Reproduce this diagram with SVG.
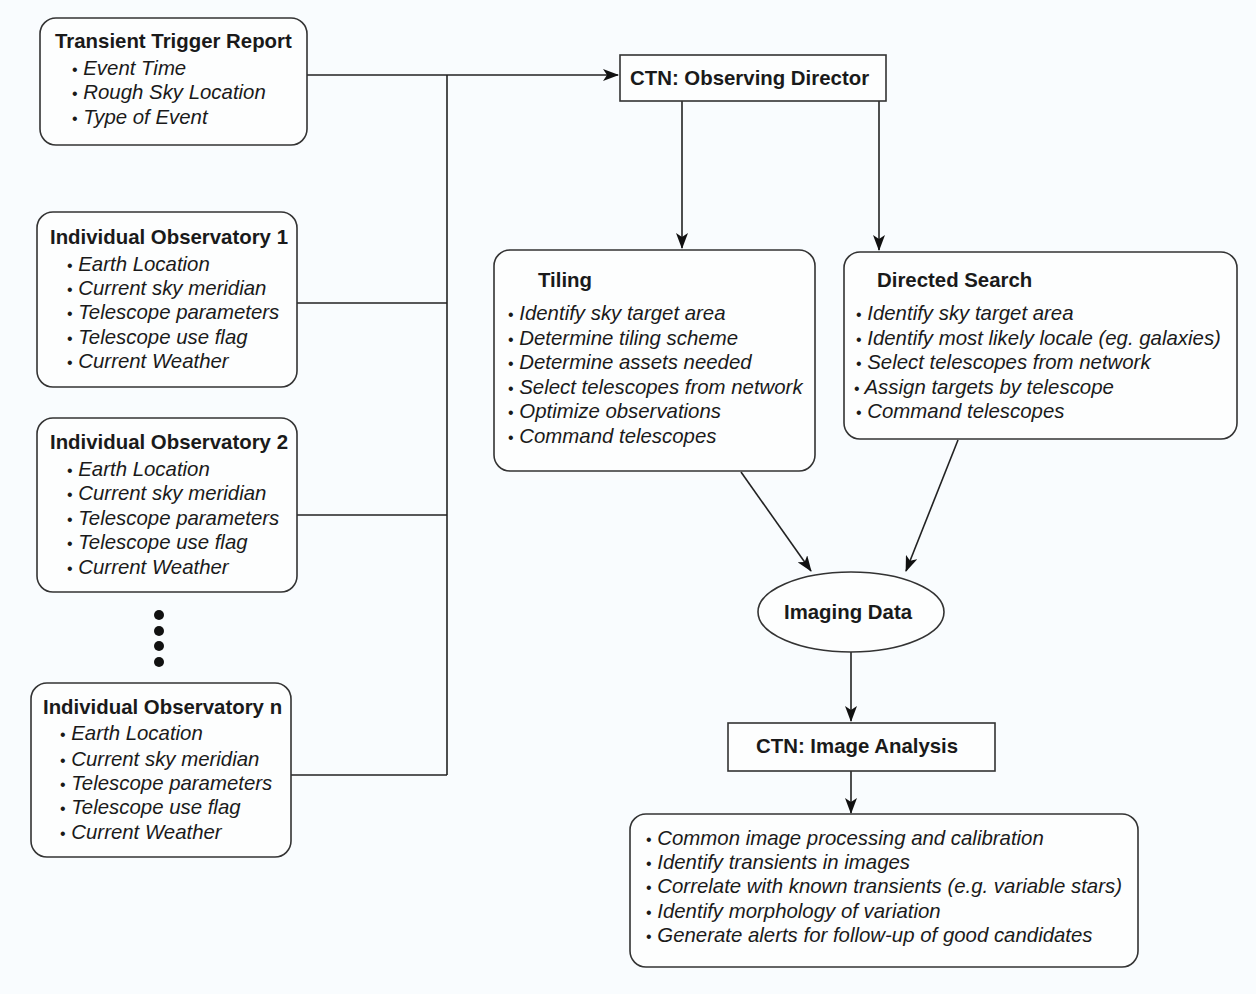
<svg xmlns="http://www.w3.org/2000/svg" width="1256" height="994" viewBox="0 0 1256 994">
  <style>
    .box { fill: #fdfefe; stroke: #333; stroke-width: 1.6; }
    .title { font-family: "Liberation Sans", Arial, sans-serif; font-size: 20.4px; font-weight: bold; fill: #1a1a1a; }
    .item { font-family: "Liberation Sans", Arial, sans-serif; font-size: 20.4px; font-style: italic; fill: #1a1a1a; }
    .blt { font-style: normal; font-size: 16px; }
    .wire { fill: none; stroke: #222; stroke-width: 1.6; }
  </style>
  <defs>
    <marker id="arr" viewBox="0 0 16 12" refX="15" refY="6" markerWidth="16" markerHeight="12" markerUnits="userSpaceOnUse" orient="auto">
      <path d="M0,0 L16,6 L0,12 L4,6 Z" fill="#111"/>
    </marker>
  </defs>
  <rect width="1256" height="994" fill="#f9fcfe"/>

  <!-- connectors -->
  <g id="connectors">
    <path class="wire" d="M307,75 H618" marker-end="url(#arr)"/>
    <path class="wire" d="M447,75 V775"/>
    <path class="wire" d="M297,303 H447"/>
    <path class="wire" d="M297,515 H447"/>
    <path class="wire" d="M291,775 H447"/>
    <path class="wire" d="M682,101 V248" marker-end="url(#arr)"/>
    <path class="wire" d="M879,101 V250" marker-end="url(#arr)"/>
    <path class="wire" d="M741,472 L811,571" marker-end="url(#arr)"/>
    <path class="wire" d="M958,440 L906,571" marker-end="url(#arr)"/>
    <path class="wire" d="M851,652 V721" marker-end="url(#arr)"/>
    <path class="wire" d="M851,771 V813" marker-end="url(#arr)"/>
  </g>

  <g id="trigger-report">
    <rect class="box" x="40" y="18" width="267" height="127" rx="16"/>
    <text class="title" x="55" y="48">Transient Trigger Report</text>
    <text class="item" x="72" y="75"><tspan class="blt">•</tspan> Event Time</text>
    <text class="item" x="72" y="99"><tspan class="blt">•</tspan> Rough Sky Location</text>
    <text class="item" x="72" y="124"><tspan class="blt">•</tspan> Type of Event</text>
  </g>

  <g id="observatory-1">
    <rect class="box" x="37" y="212" width="260" height="175" rx="16"/>
    <text class="title" x="50" y="244">Individual Observatory 1</text>
    <text class="item" x="67" y="271"><tspan class="blt">•</tspan> Earth Location</text>
    <text class="item" x="67" y="295"><tspan class="blt">•</tspan> Current sky meridian</text>
    <text class="item" x="67" y="319"><tspan class="blt">•</tspan> Telescope parameters</text>
    <text class="item" x="67" y="344"><tspan class="blt">•</tspan> Telescope use flag</text>
    <text class="item" x="67" y="368"><tspan class="blt">•</tspan> Current Weather</text>
  </g>

  <g id="observatory-2">
    <rect class="box" x="37" y="418" width="260" height="174" rx="16"/>
    <text class="title" x="50" y="449">Individual Observatory 2</text>
    <text class="item" x="67" y="476"><tspan class="blt">•</tspan> Earth Location</text>
    <text class="item" x="67" y="500"><tspan class="blt">•</tspan> Current sky meridian</text>
    <text class="item" x="67" y="525"><tspan class="blt">•</tspan> Telescope parameters</text>
    <text class="item" x="67" y="549"><tspan class="blt">•</tspan> Telescope use flag</text>
    <text class="item" x="67" y="574"><tspan class="blt">•</tspan> Current Weather</text>
  </g>

  <g id="ellipsis-dots" fill="#111">
    <circle cx="159" cy="615" r="5"/>
    <circle cx="159" cy="631" r="5"/>
    <circle cx="159" cy="646" r="5"/>
    <circle cx="159" cy="662" r="5"/>
  </g>

  <g id="observatory-n">
    <rect class="box" x="31" y="683" width="260" height="174" rx="16"/>
    <text class="title" x="43" y="714">Individual Observatory n</text>
    <text class="item" x="60" y="740"><tspan class="blt">•</tspan> Earth Location</text>
    <text class="item" x="60" y="766"><tspan class="blt">•</tspan> Current sky meridian</text>
    <text class="item" x="60" y="790"><tspan class="blt">•</tspan> Telescope parameters</text>
    <text class="item" x="60" y="814"><tspan class="blt">•</tspan> Telescope use flag</text>
    <text class="item" x="60" y="839"><tspan class="blt">•</tspan> Current Weather</text>
  </g>

  <g id="observing-director">
    <rect class="box" x="620" y="55" width="266" height="46"/>
    <text class="title" x="630" y="85">CTN: Observing Director</text>
  </g>

  <g id="tiling">
    <rect class="box" x="494" y="250" width="321" height="221" rx="16"/>
    <text class="title" x="538" y="287">Tiling</text>
    <text class="item" x="508" y="320"><tspan class="blt">•</tspan> Identify sky target area</text>
    <text class="item" x="508" y="345"><tspan class="blt">•</tspan> Determine tiling scheme</text>
    <text class="item" x="508" y="369"><tspan class="blt">•</tspan> Determine assets needed</text>
    <text class="item" x="508" y="394"><tspan class="blt">•</tspan> Select telescopes from network</text>
    <text class="item" x="508" y="418"><tspan class="blt">•</tspan> Optimize observations</text>
    <text class="item" x="508" y="443"><tspan class="blt">•</tspan> Command telescopes</text>
  </g>

  <g id="directed-search">
    <rect class="box" x="844" y="252" width="393" height="187" rx="16"/>
    <text class="title" x="877" y="287">Directed Search</text>
    <text class="item" x="856" y="320"><tspan class="blt">•</tspan> Identify sky target area</text>
    <text class="item" x="856" y="345"><tspan class="blt">•</tspan> Identify most likely locale (eg. galaxies)</text>
    <text class="item" x="856" y="369"><tspan class="blt">•</tspan> Select telescopes from network</text>
    <text class="item" x="854" y="394"><tspan class="blt">•</tspan> Assign targets by telescope</text>
    <text class="item" x="856" y="418"><tspan class="blt">•</tspan> Command telescopes</text>
  </g>

  <g id="imaging-data">
    <ellipse class="box" cx="851" cy="612" rx="93" ry="40"/>
    <text class="title" x="848" y="619" text-anchor="middle">Imaging Data</text>
  </g>

  <g id="image-analysis">
    <rect class="box" x="728" y="723" width="267" height="48"/>
    <text class="title" x="756" y="753">CTN: Image Analysis</text>
  </g>

  <g id="analysis-steps">
    <rect class="box" x="630" y="814" width="508" height="153" rx="16"/>
    <text class="item" x="646" y="845"><tspan class="blt">•</tspan> Common image processing and calibration</text>
    <text class="item" x="646" y="869"><tspan class="blt">•</tspan> Identify transients in images</text>
    <text class="item" x="646" y="893"><tspan class="blt">•</tspan> Correlate with known transients (e.g. variable stars)</text>
    <text class="item" x="646" y="918"><tspan class="blt">•</tspan> Identify morphology of variation</text>
    <text class="item" x="646" y="942"><tspan class="blt">•</tspan> Generate alerts for follow-up of good candidates</text>
  </g>
</svg>
